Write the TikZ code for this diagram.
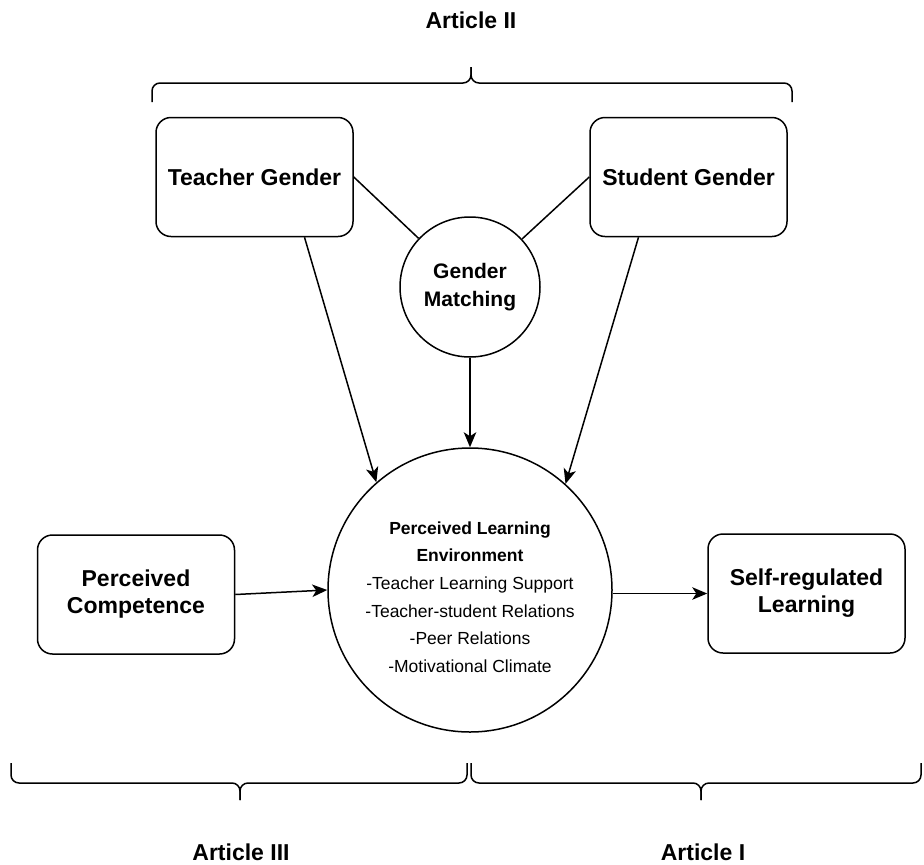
\documentclass[tikz,border=0pt]{standalone}
\usepackage{fontspec}
\setmainfont{Liberation Sans}
\usetikzlibrary{positioning,arrows.meta}

\begin{document}
\begin{tikzpicture}[x=1pt,y=-1pt,line width=1.5pt,
-{Stealth[length=15pt,width=12.5pt,inset=4pt]},node distance=303pt and 334pt,on grid,
box/.style={rectangle,rounded corners=15pt,draw,minimum width=197pt,minimum height=119pt,
align=center,font=\bfseries\fontsize{23}{27}\selectfont},
state/.style={circle,draw,align=center},
brace/.style={-,rounded corners=8pt},
article/.style={font=\bfseries\fontsize{23}{26}\selectfont}]
\useasboundingbox (0,0) rectangle (924,865);
% nodes
\node[state,minimum size=284pt,font=\fontsize{17.5}{27.7}\selectfont] (plc) at (470,590) {};
\node[align=center,font=\fontsize{17.5}{27.7}\selectfont] (plctext) at (470,597)
{\textbf{Perceived Learning}\\\textbf{Environment}\\-Teacher Learning Support\\
-Teacher-student Relations\\-Peer Relations\\-Motivational Climate};
\node[state,minimum size=140pt,font=\bfseries\fontsize{21}{28}\selectfont] (gm) [above=303pt of plc] {Gender\\Matching};
\node[box] (tg) [above left=413pt and 215.5pt of plc] {Teacher Gender};
\node[box] (sg) [above right=413pt and 218.5pt of plc] {Student Gender};
\node[box] (pc) [left=of plc, yshift=-4.5pt] {Perceived\\Competence};
\node[box] (srl) [right=336.5pt of plc, yshift=-3.5pt] {Self-regulated\\Learning};
% edges
\draw[-] (tg.east) -- (gm);
\draw[-] (sg.west) -- (gm);
\draw (gm) -- (plc);
\draw ([xshift=50pt]tg.south) -- (plc.131);
\draw ([xshift=-50pt]sg.south) -- (plc.48);
\draw (pc.east) -- (plc.west);
\draw (plc.east |- srl.west) -- (srl.west);
% braces
\draw[brace] (152,102) |- (471,83) -- (471,67);
\draw[brace] (792,102) |- (471,83) -- (471,67);
\draw[brace] (11,763) |- (240,783) -- (240,800);
\draw[brace] (467,763) |- (240,783) -- (240,800);
\draw[brace] (471,763) |- (701,783) -- (701,800);
\draw[brace] (921,763) |- (701,783) -- (701,800);
\node[article] (a2) at (471,20) {Article II};
\node[article] (a3) at (241,852) {Article III};
\node[article] (a1) at (703,852) {Article I};
\end{tikzpicture}
\end{document}
